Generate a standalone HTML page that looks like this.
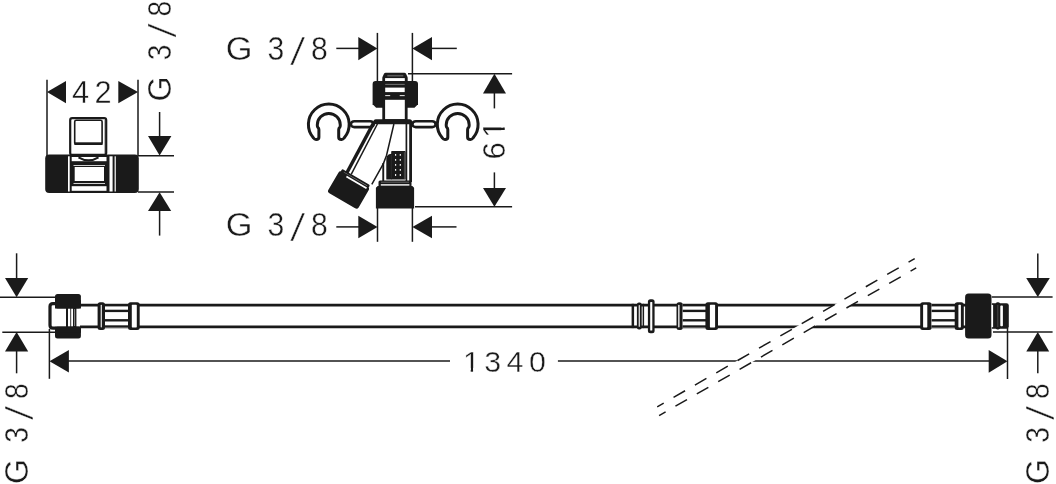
<!DOCTYPE html>
<html><head><meta charset="utf-8"><title>drawing</title>
<style>
html,body{margin:0;padding:0;background:#fff;}
body{width:1056px;height:484px;overflow:hidden;}
svg{display:block;will-change:transform;}
.t{font-family:"Liberation Sans",sans-serif;fill:#1a1a1a;stroke:#fff;stroke-width:0.4px;paint-order:fill stroke;}
</style></head><body>
<svg width="1056" height="484" viewBox="0 0 1056 484">
<rect width="1056" height="484" fill="#fff"/>
<line x1="47" y1="79.8" x2="47" y2="156" stroke="#1a1a1a" stroke-width="1.5" />
<line x1="138" y1="79.8" x2="138" y2="156" stroke="#1a1a1a" stroke-width="1.5" />
<polygon points="47,92.1 66,81 66,103.3" fill="#1a1a1a" />
<polygon points="138,92.1 118.3,81 118.3,103.3" fill="#1a1a1a" />
<line x1="159.6" y1="112" x2="159.6" y2="137" stroke="#1a1a1a" stroke-width="1.5" />
<polygon points="159.6,155.6 148,136.1 171.4,136.1" fill="#1a1a1a" />
<line x1="138" y1="155.7" x2="174" y2="155.7" stroke="#1a1a1a" stroke-width="1.5" />
<line x1="138" y1="192" x2="174" y2="192" stroke="#1a1a1a" stroke-width="1.5" />
<polygon points="159.6,192.2 148,211 171.2,211" fill="#1a1a1a" />
<line x1="159.6" y1="210" x2="159.6" y2="235.6" stroke="#1a1a1a" stroke-width="1.5" />
<rect x="70.20" y="118.20" width="36.00" height="36.70" rx="2" fill="#fff" stroke="#1a1a1a" stroke-width="2.2"/>
<rect x="74.70" y="120.20" width="27.40" height="24.00" rx="1.5" fill="#fff" stroke="#1a1a1a" stroke-width="1.6"/>
<rect x="74.5" y="142.3" width="28" height="2.7" rx="0" fill="#1a1a1a" />
<line x1="104.6" y1="120" x2="104.6" y2="154" stroke="#1a1a1a" stroke-width="0.6" opacity="0.6"/>
<rect x="45.2" y="154.4" width="93.6" height="38.6" rx="4" fill="#1a1a1a" />
<rect x="71.7" y="157" width="34.8" height="4.2" rx="0" fill="#fff" />
<path d="M78.5,157.3 Q88.5,163.4 98.5,157.3" fill="none" stroke="#1a1a1a" stroke-width="2"/>
<rect x="68" y="156.3" width="1.7" height="35.2" rx="0" fill="#fff" />
<rect x="74.7" y="167" width="29.3" height="14" rx="0" fill="#fff" />
<rect x="73.5" y="165.2" width="31.5" height="0.8" rx="0" fill="#fff" />
<rect x="73.5" y="183.2" width="31.5" height="0.8" rx="0" fill="#fff" />
<rect x="71.7" y="186.2" width="34.8" height="4.6" rx="0" fill="#fff" />
<rect x="109.5" y="156.3" width="3.1" height="35.2" rx="0" fill="#fff" />
<rect x="114.6" y="156.3" width="1.2" height="35.2" rx="0" fill="#fff" />
<line x1="377.4" y1="32.9" x2="377.4" y2="81" stroke="#1a1a1a" stroke-width="1.5" />
<line x1="412.4" y1="32.9" x2="412.4" y2="81" stroke="#1a1a1a" stroke-width="1.5" />
<line x1="336.3" y1="48.4" x2="359" y2="48.4" stroke="#1a1a1a" stroke-width="1.5" />
<polygon points="377.4,48.5 358.3,37 358.3,60.2" fill="#1a1a1a" />
<polygon points="412.4,48.5 432,37 432,60.2" fill="#1a1a1a" />
<line x1="431" y1="48.4" x2="456.8" y2="48.4" stroke="#1a1a1a" stroke-width="1.5" />
<line x1="377.5" y1="208" x2="377.5" y2="241.8" stroke="#1a1a1a" stroke-width="1.5" />
<line x1="412.4" y1="208" x2="412.4" y2="241.8" stroke="#1a1a1a" stroke-width="1.5" />
<line x1="336.3" y1="226.9" x2="359" y2="226.9" stroke="#1a1a1a" stroke-width="1.5" />
<polygon points="377.5,227 358.3,215.8 358.3,238.2" fill="#1a1a1a" />
<polygon points="412.4,227 432,215.8 432,238.2" fill="#1a1a1a" />
<line x1="431" y1="226.9" x2="456.5" y2="226.9" stroke="#1a1a1a" stroke-width="1.5" />
<line x1="408" y1="73.8" x2="512.1" y2="73.8" stroke="#1a1a1a" stroke-width="1.5" />
<line x1="415" y1="206.8" x2="512.1" y2="206.8" stroke="#1a1a1a" stroke-width="1.5" />
<polygon points="494.4,73.8 483,93.6 506,93.6" fill="#1a1a1a" />
<line x1="494.4" y1="93" x2="494.4" y2="108.4" stroke="#1a1a1a" stroke-width="1.5" />
<polygon points="494.4,206.8 483,187.9 506,187.9" fill="#1a1a1a" />
<line x1="494.4" y1="172.4" x2="494.4" y2="188.5" stroke="#1a1a1a" stroke-width="1.5" />
<path d="M318.90,137.2 L318.90,129.8 Q318.90,128.3 317.90,127.4 Q317.30,126.6 317.30,124.9 A11.5,11.5 0 0 1 340.30,124.9 Q340.30,126.6 339.70,127.4 Q338.70,128.3 338.70,129.8 L338.70,137.2 Q338.70,139.5 341.40,139.5 Q343.00,139.6 344.10,138.0 A20.4,20.4 0 1 0 313.50,138.0 Q314.60,139.6 316.20,139.5 Q318.90,139.5 318.90,137.2 Z" fill="#fff" stroke="#1a1a1a" stroke-width="3.0" stroke-linejoin="round"/>
<path d="M447.80,137.2 L447.80,129.8 Q447.80,128.3 446.80,127.4 Q446.20,126.6 446.20,124.9 A11.5,11.5 0 0 1 469.20,124.9 Q469.20,126.6 468.60,127.4 Q467.60,128.3 467.60,129.8 L467.60,137.2 Q467.60,139.5 470.30,139.5 Q471.90,139.6 473.00,138.0 A20.4,20.4 0 1 0 442.40,138.0 Q443.50,139.6 445.10,139.5 Q447.80,139.5 447.80,137.2 Z" fill="#fff" stroke="#1a1a1a" stroke-width="3.0" stroke-linejoin="round"/>
<rect x="350.85" y="121.25" width="22.80" height="5.80" rx="3.5" fill="#fff" stroke="#1a1a1a" stroke-width="2.7"/>
<rect x="412.35" y="121.25" width="23.30" height="5.80" rx="3.5" fill="#fff" stroke="#1a1a1a" stroke-width="2.7"/>
<path d="M385.6,72.7 H404.3 Q405.3,72.7 405.9,73.5 L407.3,76.6 Q407.7,77.3 407.7,78.2 V84 H382.3 V78.2 Q382.3,77.3 382.7,76.6 L384.1,73.5 Q384.7,72.7 385.6,72.7 Z" fill="#1a1a1a"/>
<rect x="387.3" y="74.9" width="16" height="1.6" rx="0" fill="#5a5a5a" />
<rect x="385.1" y="78.1" width="19.7" height="3.0" rx="0" fill="#fff" />
<path d="M375.6,80.9 H415 Q418,80.9 418,83.9 V104.2 L414.5,107.7 H376.1 L372.6,104.2 V83.9 Q372.6,80.9 375.6,80.9 Z" fill="#1a1a1a"/>
<rect x="385.2" y="87.6" width="19.5" height="4.5" rx="0" fill="#fff" />
<rect x="385.2" y="83.9" width="19.5" height="0.8" rx="0" fill="#8a8a8a" />
<rect x="385.2" y="95.2" width="5" height="0.9" rx="0" fill="#fff" />
<rect x="399.7" y="95.2" width="5" height="0.9" rx="0" fill="#fff" />
<rect x="382.3" y="97.9" width="25.3" height="23" rx="0" fill="#1a1a1a" />
<rect x="385.1" y="99.8" width="19.7" height="19.4" rx="0" fill="#fff" />
<rect x="409.2" y="122" width="2.8" height="60" rx="0" fill="#1a1a1a" />
<line x1="406.4" y1="123" x2="406.4" y2="181" stroke="#1a1a1a" stroke-width="1.7" />
<rect x="373.4" y="119.2" width="38.7" height="5" rx="2.5" fill="#1a1a1a" />
<line x1="373.8" y1="122.5" x2="346.5" y2="173.5" stroke="#1a1a1a" stroke-width="3.5" />
<line x1="377.4" y1="124" x2="351.2" y2="174.4" stroke="#1a1a1a" stroke-width="1.5" />
<polyline points="393.9,124 386.5,155.5 383.4,163.6 371.8,184.4" fill="none" stroke="#1a1a1a" stroke-width="1.5"/>
<rect x="382.3" y="163" width="1.9" height="18" rx="0" fill="#1a1a1a" />
<rect x="391.2" y="151" width="14.4" height="28.5" rx="0.8" fill="#1a1a1a" />
<path d="M386.3,179.5 V158.5 Q386.6,155.6 388.6,154.6 Q390,153.8 392,153.8 V179.5 Z" fill="#1a1a1a"/>
<rect x="403.9" y="152.2" width="1.5" height="26.8" rx="0" fill="#454545" />
<line x1="391.3" y1="155" x2="391.3" y2="178" stroke="#3a3a3a" stroke-width="0.5" />
<rect x="395.0" y="153.9" width="1.2" height="1.9" rx="0.3" fill="#fff" />
<rect x="399.7" y="153.9" width="1.2" height="1.9" rx="0.3" fill="#fff" />
<rect x="395.0" y="158.92" width="1.2" height="1.9" rx="0.3" fill="#fff" />
<rect x="399.7" y="158.92" width="1.2" height="1.9" rx="0.3" fill="#fff" />
<rect x="395.0" y="163.94" width="1.2" height="1.9" rx="0.3" fill="#fff" />
<rect x="399.7" y="163.94" width="1.2" height="1.9" rx="0.3" fill="#fff" />
<rect x="395.0" y="168.96" width="1.2" height="1.9" rx="0.3" fill="#fff" />
<rect x="399.7" y="168.96" width="1.2" height="1.9" rx="0.3" fill="#fff" />
<rect x="395.0" y="173.98" width="1.2" height="1.9" rx="0.3" fill="#fff" />
<rect x="399.7" y="173.98" width="1.2" height="1.9" rx="0.3" fill="#fff" />
<path d="M380,180.5 H410 Q411.5,180.5 411.5,182 V185.9 H412.3 L414.1,187.7 V208.4 H375.9 V187.7 L377.7,185.9 H378.5 V182 Q378.5,180.5 380,180.5 Z" fill="#1a1a1a"/>
<rect x="380.8" y="184.2" width="28.6" height="1.4" rx="0" fill="#fff" />
<line x1="381" y1="182.2" x2="409" y2="182.2" stroke="#aaa" stroke-width="0.5" />
<g transform="translate(342.2,168.9) rotate(30.2)"><rect x="0" y="0" width="32.2" height="4" rx="1.2" fill="#1a1a1a"/><rect x="-1.4" y="2.6" width="35.0" height="25.0" rx="2.6" fill="#1a1a1a"/><rect x="7.5" y="3.6" width="23.3" height="1.8" fill="#fff"/><rect x="3" y="1.7" width="27" height="0.5" fill="#999"/></g>
<line x1="80" y1="305.1" x2="968" y2="305.1" stroke="#1a1a1a" stroke-width="2.7" />
<line x1="80" y1="326.8" x2="968" y2="326.8" stroke="#1a1a1a" stroke-width="2.7" />
<polygon points="849.75,296 866.89,296 741.81,368 724.67,368" fill="#fff" />
<line x1="0" y1="297.2" x2="56" y2="297.2" stroke="#1a1a1a" stroke-width="1.5" />
<line x1="2.3" y1="332.2" x2="56" y2="332.2" stroke="#1a1a1a" stroke-width="1.5" />
<line x1="16.6" y1="253.3" x2="16.6" y2="279" stroke="#1a1a1a" stroke-width="1.5" />
<polygon points="16.6,297.3 5,277.9 28.2,277.9" fill="#1a1a1a" />
<polygon points="16.6,332.1 5,351.5 28.2,351.5" fill="#1a1a1a" />
<line x1="16.6" y1="351" x2="16.6" y2="373.3" stroke="#1a1a1a" stroke-width="1.5" />
<line x1="49.4" y1="329" x2="49.4" y2="378.8" stroke="#1a1a1a" stroke-width="1.5" />
<path d="M80,303.6 H53 Q50,303.6 50,306.6 V325.2 Q50,328.2 53,328.2 H80" fill="#fff" stroke="#1a1a1a" stroke-width="3.2"/>
<rect x="66" y="305" width="2" height="22" rx="0" fill="#1a1a1a" />
<line x1="70.7" y1="305" x2="70.7" y2="327" stroke="#1a1a1a" stroke-width="0.9" />
<rect x="73" y="305" width="3.4" height="22" rx="0" fill="#1a1a1a" />
<line x1="74.6" y1="309" x2="74.6" y2="326" stroke="#fff" stroke-width="0.5" />
<rect x="55" y="293.9" width="25.9" height="14.6" rx="2.5" fill="#1a1a1a" />
<rect x="55" y="326.8" width="25.9" height="11.8" rx="2.5" fill="#1a1a1a" />
<rect x="55" y="300" width="25.9" height="8.5" rx="0" fill="#1a1a1a" />
<rect x="55" y="326.8" width="25.9" height="6" rx="0" fill="#1a1a1a" />
<rect x="97.6" y="302.2" width="7.4" height="27.8" rx="2.5" fill="#1a1a1a" />
<rect x="100.7" y="304.8" width="1.1" height="22.6" rx="0.6" fill="#fff" />
<rect x="105" y="303.9" width="24" height="24.1" rx="0" fill="#fff" />
<line x1="105" y1="305.2" x2="129" y2="305.2" stroke="#1a1a1a" stroke-width="2.4" />
<line x1="105" y1="310.9" x2="129" y2="310.9" stroke="#1a1a1a" stroke-width="2.4" />
<line x1="105" y1="320.3" x2="129" y2="320.3" stroke="#1a1a1a" stroke-width="2.4" />
<line x1="105" y1="326.5" x2="129" y2="326.5" stroke="#1a1a1a" stroke-width="2.4" />
<rect x="128" y="302.2" width="11.7" height="27.8" rx="2.5" fill="#1a1a1a" />
<rect x="131.8" y="304.8" width="5.0" height="22.6" rx="0.6" fill="#fff" />
<rect x="631.6" y="303.8" width="2.5" height="24.3" rx="0" fill="#1a1a1a" />
<rect x="636.9" y="302.5" width="4.8" height="26.9" rx="2" fill="#1a1a1a" />
<rect x="638.7" y="305.1" width="1.1" height="21.7" rx="0.6" fill="#fff" />
<rect x="642.6" y="303.8" width="1.5" height="24.3" rx="0" fill="#1a1a1a" />
<rect x="647.9" y="299.3" width="6.7" height="33.9" rx="2.5" fill="#1a1a1a" />
<rect x="650.2" y="301.9" width="2.1" height="28.7" rx="0.6" fill="#fff" />
<rect x="676.5" y="302.2" width="6.2" height="27.8" rx="2.5" fill="#1a1a1a" />
<rect x="678.2" y="304.8" width="1.3" height="22.6" rx="0.6" fill="#fff" />
<rect x="682.7" y="303.9" width="23.3" height="24.1" rx="0" fill="#fff" />
<line x1="682.7" y1="305.2" x2="706" y2="305.2" stroke="#1a1a1a" stroke-width="2.4" />
<line x1="682.7" y1="310.9" x2="706" y2="310.9" stroke="#1a1a1a" stroke-width="2.4" />
<line x1="682.7" y1="320.3" x2="706" y2="320.3" stroke="#1a1a1a" stroke-width="2.4" />
<line x1="682.7" y1="326.5" x2="706" y2="326.5" stroke="#1a1a1a" stroke-width="2.4" />
<rect x="705.4" y="302.2" width="12.6" height="27.8" rx="2.5" fill="#1a1a1a" />
<rect x="709.9" y="304.8" width="5.2" height="22.6" rx="0.6" fill="#fff" />
<rect x="920.2" y="302.2" width="11.4" height="27.8" rx="2.5" fill="#1a1a1a" />
<rect x="923.1" y="304.8" width="4.2" height="22.6" rx="0.6" fill="#fff" />
<rect x="931.6" y="303.9" width="23.4" height="24.1" rx="0" fill="#fff" />
<line x1="931.6" y1="305.2" x2="955" y2="305.2" stroke="#1a1a1a" stroke-width="2.4" />
<line x1="931.6" y1="310.9" x2="955" y2="310.9" stroke="#1a1a1a" stroke-width="2.4" />
<line x1="931.6" y1="320.3" x2="955" y2="320.3" stroke="#1a1a1a" stroke-width="2.4" />
<line x1="931.6" y1="326.5" x2="955" y2="326.5" stroke="#1a1a1a" stroke-width="2.4" />
<rect x="954.7" y="302.2" width="9.1" height="27.8" rx="2.5" fill="#1a1a1a" />
<rect x="958.4" y="304.8" width="2.5" height="22.6" rx="0.6" fill="#fff" />
<rect x="965.1" y="293.6" width="26.4" height="45" rx="3.5" fill="#1a1a1a" />
<path d="M992,303.3 H1006.5 Q1008.8,303.3 1008.8,305.6 V326.5 Q1008.8,328.8 1006.5,328.8 H992 Z" fill="#1a1a1a"/>
<rect x="991.5" y="304.9" width="1.6" height="22.3" rx="0" fill="#fff" />
<rect x="995.6" y="302.2" width="4.5" height="27.4" rx="1.8" fill="#1a1a1a" />
<line x1="997.8" y1="305" x2="997.8" y2="327" stroke="#777" stroke-width="0.5" />
<rect x="1000.3" y="305.6" width="2.6" height="20.6" rx="0.8" fill="#fff" />
<line x1="991.8" y1="297" x2="1052.6" y2="297" stroke="#1a1a1a" stroke-width="1.5" />
<line x1="993" y1="332" x2="1052.6" y2="332" stroke="#1a1a1a" stroke-width="1.5" />
<line x1="1037.8" y1="253.6" x2="1037.8" y2="279" stroke="#1a1a1a" stroke-width="1.5" />
<polygon points="1037.8,297 1026.2,278.1 1049.8,278.1" fill="#1a1a1a" />
<polygon points="1037.8,332 1026.3,351.4 1049.2,351.4" fill="#1a1a1a" />
<line x1="1037.8" y1="351" x2="1037.8" y2="373.3" stroke="#1a1a1a" stroke-width="1.5" />
<line x1="1007.5" y1="328" x2="1007.5" y2="379" stroke="#1a1a1a" stroke-width="1.5" />
<line x1="68" y1="361" x2="450" y2="361" stroke="#1a1a1a" stroke-width="1.5" />
<line x1="557.9" y1="361" x2="989.5" y2="361" stroke="#1a1a1a" stroke-width="1.5" />
<polygon points="49.5,361.2 68.9,350 68.9,372.6" fill="#1a1a1a" />
<polygon points="1007.5,361.2 988.7,350 988.7,372.8" fill="#1a1a1a" />
<polygon points="742.04,358 759.18,358 748.76,364 731.61,364" fill="#fff" />
<line x1="657.2" y1="406.8" x2="914.7" y2="258.6" stroke="#1a1a1a" stroke-width="1.5" stroke-dasharray="13.3 11.35" stroke-dashoffset="5.8"/>
<line x1="659.1" y1="415.6" x2="916.2" y2="267.9" stroke="#1a1a1a" stroke-width="1.5" stroke-dasharray="13.3 11.35" stroke-dashoffset="5.8"/>
<text transform="translate(225.8,59.8) rotate(0) scale(0.92,1)" y="0" font-size="32.8" class="t" aria-label="G 3/8"><tspan x="0.0" textLength="29.1" lengthAdjust="spacingAndGlyphs">G</tspan><tspan x="32.6"> </tspan><tspan x="45.2">3</tspan><tspan x="72.2" dy="5" font-style="italic" font-size="38">/</tspan><tspan x="92.6" dy="-5">8</tspan></text>
<text transform="translate(225.8,235.9) rotate(0) scale(0.92,1)" y="0" font-size="32.8" class="t" aria-label="G 3/8"><tspan x="0.0" textLength="29.1" lengthAdjust="spacingAndGlyphs">G</tspan><tspan x="32.6"> </tspan><tspan x="45.2">3</tspan><tspan x="72.2" dy="5" font-style="italic" font-size="38">/</tspan><tspan x="92.6" dy="-5">8</tspan></text>
<text transform="translate(171.2,102.1) rotate(-90) scale(0.86,1)" y="0" font-size="32.8" class="t" aria-label="G 3/8"><tspan x="0.7" textLength="29.1" lengthAdjust="spacingAndGlyphs">G</tspan><tspan x="34.9"> </tspan><tspan x="48.8">3</tspan><tspan x="77.4" dy="5" font-style="italic" font-size="38">/</tspan><tspan x="99.5" dy="-5">8</tspan></text>
<text transform="translate(28.2,484.6) rotate(-90) scale(0.86,1)" y="0" font-size="32.8" class="t" aria-label="G 3/8"><tspan x="0.7" textLength="29.1" lengthAdjust="spacingAndGlyphs">G</tspan><tspan x="34.9"> </tspan><tspan x="48.8">3</tspan><tspan x="77.4" dy="5" font-style="italic" font-size="38">/</tspan><tspan x="99.5" dy="-5">8</tspan></text>
<text transform="translate(1049.4,484.6) rotate(-90) scale(0.86,1)" y="0" font-size="32.8" class="t" aria-label="G 3/8"><tspan x="0.7" textLength="29.1" lengthAdjust="spacingAndGlyphs">G</tspan><tspan x="34.9"> </tspan><tspan x="48.8">3</tspan><tspan x="77.4" dy="5" font-style="italic" font-size="38">/</tspan><tspan x="99.5" dy="-5">8</tspan></text>
<text transform="translate(72.1,103.0) rotate(0) scale(1.0,1)" x="0.0 22.5" y="0" font-size="30.8" class="t">42</text>
<text transform="translate(505.2,159.5) rotate(-90) scale(1.0,1)" x="0.0 21.5" y="0" font-size="31.3" class="t">61</text>
<g transform="translate(505.2,159.5) rotate(-90) scale(1.0,1)" fill="#fff"><rect x="23.03" y="-4.00" width="6.49" height="6.11"/><rect x="31.99" y="-4.00" width="6.02" height="6.11"/></g>
<text transform="translate(462.9,371.8) rotate(0) scale(1.0,1)" x="0.0 21.3 43.6 66.1" y="0" font-size="30.4" class="t">1340</text>
<g transform="translate(462.9,371.8) rotate(0) scale(1.0,1)" fill="#fff"><rect x="1.48" y="-3.89" width="6.31" height="5.94"/><rect x="10.18" y="-3.89" width="5.85" height="5.94"/></g>
</svg>
</body></html>
